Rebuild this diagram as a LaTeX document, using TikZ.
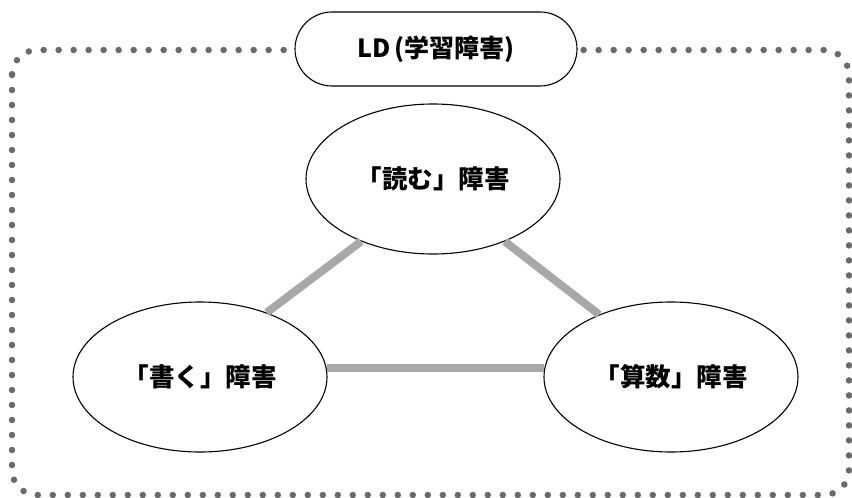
\documentclass[tikz,border=0pt]{standalone}
\usepackage{fontspec}
\setmainfont{Noto Sans CJK JP}
\usetikzlibrary{shapes.geometric}
\definecolor{dotgray}{HTML}{6A6A6A}
\definecolor{linkgray}{HTML}{A8A8A8}
\begin{document}
\begin{tikzpicture}[x=1pt,y=-1pt,
  frame/.style={draw=dotgray,line width=6.5pt,line cap=round,dash pattern=on 0pt off 15pt,rounded corners=25pt},
  titlebox/.style={draw,line width=1.1pt,fill=white,rounded corners=37pt,minimum width=282pt,minimum height=74pt,inner sep=0pt,font=\fontsize{25}{29}\selectfont\bfseries},
  bubble/.style={ellipse,draw,line width=1.1pt,fill=white,minimum width=254pt,minimum height=150pt,inner sep=0pt,font=\fontsize{25.5}{29}\selectfont\bfseries},
  link/.style={draw=linkgray,line width=8pt}]
\useasboundingbox (0,0) rectangle (852,498);
\draw[frame] (12,50) rectangle (849,495);
\node[titlebox] (ld) at (436,49) {LD\,(学習障害)};
\node[bubble] (read) at (433,179) {「読む」障害};
\node[bubble] (write) at (200,377) {「書く」障害};
\node[bubble] (math) at (671,377) {「算数」障害};
\draw[link] (read.221) -- (write.44);
\draw[link] (read.319) -- (math.139);
\draw[link] (write.4) -- (math.176);
\end{tikzpicture}
\end{document}
